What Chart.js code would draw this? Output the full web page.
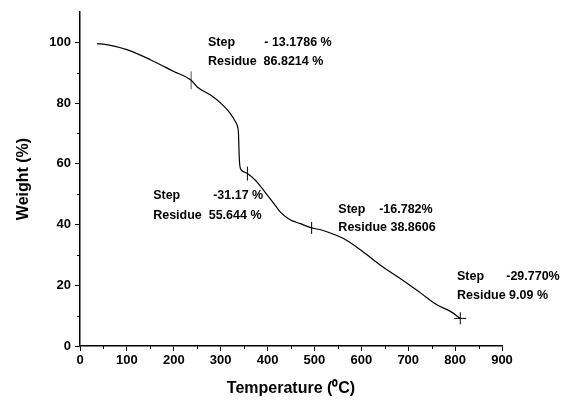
<!DOCTYPE html>
<html>
<head>
<meta charset="utf-8">
<script src="https://cdn.jsdelivr.net/npm/chart.js@4/dist/chart.umd.min.js"></script>
<style>
html,body{margin:0;padding:0;background:#fff;}
#wrap{width:561px;height:402px;}
</style>
</head>
<body>
<div id="wrap"><canvas id="c" width="561" height="402"></canvas></div>
<script>
// ---- data ----
const temperature = [36, 60, 100, 150, 200, 237, 250, 280, 300, 320, 331, 336, 338, 339, 340, 342, 348, 357, 374, 386, 400, 414, 428, 448, 470, 494, 515, 534, 562, 598, 640, 683, 726, 761, 790, 811];
const weight      = [99.6, 99.2, 97.6, 94.3, 90.4, 87.5, 85.3, 82.5, 80.0, 76.7, 74.0, 72.3, 70.0, 65.0, 61.0, 58.5, 57.5, 56.8, 54.6, 52.4, 49.6, 46.8, 44.0, 41.6, 40.3, 38.9, 38.2, 37.2, 35.4, 31.7, 26.7, 22.2, 17.5, 13.6, 11.4, 9.1];
const markerT = [237, 357, 494, 811];
const markerW = [87.5, 56.8, 38.9, 9.1];
const stepLabels    = ['Step', 'Step', 'Step', 'Step'];
const stepValues    = ['- 13.1786 %', '-31.17 %', '-16.782%', '-29.770%'];
const residueLabels = ['Residue  86.8214 %', 'Residue  55.644 %', 'Residue 38.8606', 'Residue 9.09 %'];
const xTicks = [0, 100, 200, 300, 400, 500, 600, 700, 800, 900];
const yTicks = [0, 20, 40, 60, 80, 100];
const xMinor = [50, 150, 250, 350, 450, 550, 650, 750, 850];
const yMinor = [10, 30, 50, 70, 90];

// annotation anchors (data coordinates): [stepX, valueX, stepY, residueY]
const annoPos = [
  [273, 393, 99.9, 93.6],
  [156, 284, 49.5, 43.0],
  [551, 638, 44.8, 38.9],
  [804, 909, 22.8, 16.5]
];

const FONT = '"Liberation Sans", Arial, sans-serif';

const curve = temperature.map((t, i) => ({x: t, y: weight[i]}));
const marks = markerT.map((t, i) => ({x: t, y: markerW[i]}));

const extras = {
  id: 'extras',
  afterDraw(chart) {
    const ctx = chart.ctx;
    const xs = chart.scales.x, ys = chart.scales.y;
    ctx.save();
    ctx.strokeStyle = '#000';
    ctx.lineWidth = 1;
    xMinor.forEach(v => {
      const p = Math.round(xs.getPixelForValue(v)) + 0.5;
      ctx.beginPath(); ctx.moveTo(p, ys.bottom); ctx.lineTo(p, ys.bottom + 3); ctx.stroke();
    });
    yMinor.forEach(v => {
      const p = Math.round(ys.getPixelForValue(v)) + 0.5;
      ctx.beginPath(); ctx.moveTo(xs.left - 3, p); ctx.lineTo(xs.left, p); ctx.stroke();
    });
    ctx.fillStyle = '#000';
    ctx.font = 'bold 12.5px ' + FONT;
    ctx.textAlign = 'left';
    ctx.textBaseline = 'middle';
    annoPos.forEach((a, i) => {
      const sx = xs.getPixelForValue(a[0]);
      const vx = xs.getPixelForValue(a[1]);
      const sy = ys.getPixelForValue(a[2]);
      const ry = ys.getPixelForValue(a[3]);
      ctx.fillText(stepLabels[i], sx, sy);
      ctx.fillText(stepValues[i], vx, sy);
      ctx.fillText(residueLabels[i], sx, ry);
    });
    ctx.restore();
  }
};

new Chart(document.getElementById('c'), {
  type: 'line',
  data: {
    datasets: [
      {
        data: curve,
        borderColor: '#000',
        borderWidth: 1.2,
        pointRadius: 0,
        fill: false,
        cubicInterpolationMode: 'monotone'
      },
      {
        data: marks,
        showLine: false,
        pointStyle: ['line', 'line', 'line', 'cross'],
        rotation: [90, 90, 90, 0],
        pointRadius: [9, 7, 6, 6],
        pointBorderColor: ['#555', '#000', '#000', '#000'],
        pointBorderWidth: 1,
        pointBackgroundColor: '#000'
      }
    ]
  },
  options: {
    responsive: false,
    devicePixelRatio: 1,
    animation: false,
    layout: {padding: {top: 12, right: 59, left: 0, bottom: 0}},
    plugins: {legend: {display: false}, tooltip: {enabled: false}},
    scales: {
      x: {
        type: 'linear',
        min: 0, max: 900,
        afterBuildTicks(s) { s.ticks = xTicks.map(v => ({value: v})); },
        afterFit(s) { s.height = 56; },
        grid: {drawOnChartArea: false, tickLength: 5, tickColor: '#000', tickWidth: 1},
        border: {color: '#000', width: 1.5},
        ticks: {color: '#000', padding: 2, maxRotation: 0, font: {family: FONT, size: 13, weight: 'bold'}},
        title: {display: true, text: 'Temperature (\u2070C)', color: '#000', padding: {top: 0, bottom: 4}, font: {family: FONT, size: 16, weight: 'bold'}}
      },
      y: {
        type: 'linear',
        min: 0, max: 110,
        afterBuildTicks(s) { s.ticks = yTicks.map(v => ({value: v})); },
        afterFit(s) { s.width = 80; },
        grid: {drawOnChartArea: false, tickLength: 5, tickColor: '#000', tickWidth: 1},
        border: {color: '#000', width: 1.5},
        ticks: {color: '#000', padding: 4, font: {family: FONT, size: 13, weight: 'bold'}},
        title: {display: true, text: 'Weight (%)', color: '#000', padding: {top: 14, bottom: 0}, font: {family: FONT, size: 16, weight: 'bold'}}
      }
    }
  },
  plugins: [extras]
});
</script>
</body>
</html>
